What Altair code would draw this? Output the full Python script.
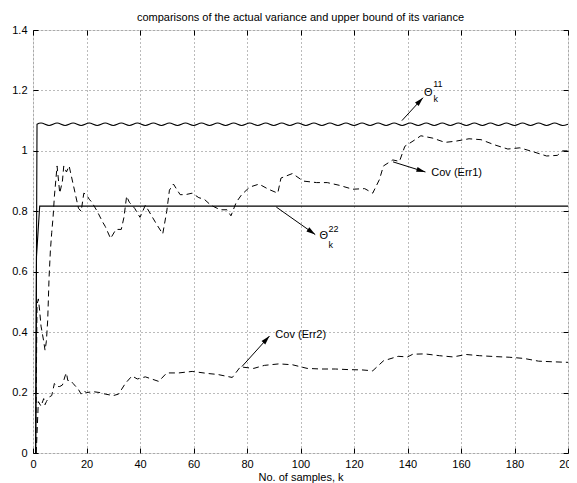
import altair as alt
import pandas as pd

FONT = "Liberation Sans"

# ---------------- data ----------------
x_ticks = [0, 20, 40, 60, 80, 100, 120, 140, 160, 180, 200]
y_ticks = [0, 0.2, 0.4, 0.6, 0.8, 1.0, 1.2, 1.4]

# Theta_k^11 (upper bound, wavy)
theta11_k = [1, 1.5] + list(range(3, 201, 3)) + [200]
theta11_v = [0.0, 1.088,
             1.092, 1.084, 1.092, 1.084, 1.092, 1.084, 1.092, 1.084, 1.092, 1.084,
             1.092, 1.084, 1.092, 1.084, 1.092, 1.084, 1.092, 1.084, 1.092, 1.084,
             1.092, 1.084, 1.092, 1.084, 1.092, 1.084, 1.092, 1.084, 1.092, 1.084,
             1.092, 1.084, 1.092, 1.084, 1.092, 1.084, 1.092, 1.084, 1.092, 1.084,
             1.092, 1.084, 1.092, 1.084, 1.092, 1.084, 1.092, 1.084, 1.092, 1.084,
             1.092, 1.084, 1.092, 1.084, 1.092, 1.084, 1.092, 1.084, 1.092, 1.084,
             1.092, 1.084, 1.092, 1.084, 1.092, 1.084,
             1.088]

# Theta_k^22 (upper bound, flat)
theta22_k = [1, 1.3, 2.5, 200]
theta22_v = [0.0, 0.65, 0.817, 0.817]

# Cov(Err1)
cov1_k = [1, 1.5, 2, 2.5, 3, 4, 4.5, 5, 5.5, 6, 6.5, 7, 7.5, 8, 9, 10, 11, 11.5, 12.5,
          13.5, 15, 16, 17, 18, 19, 20, 21, 22, 24, 26, 27, 29, 31, 33, 34, 35, 36,
          38, 40, 42, 44, 46, 48.5, 50, 51, 52.5, 55, 57, 59.5, 62, 64, 66.5, 70,
          72.5, 74, 76, 78, 81, 84.5, 88, 91.5, 92.7, 97, 101, 106, 110, 114.5, 119.5,
          124, 127, 129.5, 131, 134.5, 137, 139, 142.5, 145, 149.5, 154, 158, 163,
          167.5, 172.5, 177.5, 182, 187, 192, 196, 198, 200]
cov1_v = [0.0, 0.49, 0.51, 0.47, 0.42, 0.37, 0.34, 0.37, 0.44, 0.58, 0.67, 0.73, 0.78,
          0.85, 0.95, 0.86, 0.90, 0.95, 0.93, 0.95, 0.89, 0.85, 0.81, 0.80, 0.86, 0.855,
          0.84, 0.83, 0.80, 0.765, 0.75, 0.71, 0.74, 0.74, 0.78, 0.85, 0.83, 0.81, 0.78,
          0.82, 0.79, 0.76, 0.725, 0.80, 0.87, 0.89, 0.855, 0.855, 0.86, 0.845, 0.84,
          0.82, 0.805, 0.805, 0.785, 0.83, 0.855, 0.88, 0.89, 0.873, 0.86, 0.91, 0.925,
          0.90, 0.895, 0.895, 0.886, 0.873, 0.875, 0.86, 0.905, 0.95, 0.97, 0.965, 1.015,
          1.035, 1.05, 1.042, 1.028, 1.032, 1.04, 1.037, 1.02, 1.006, 1.01, 0.997, 0.983,
          0.985, 1.0, 1.0]

# Cov(Err2)
cov2_k = [1.2, 2, 3, 4, 4.5, 5, 6, 7, 8, 9, 10, 11, 12, 12.5, 13, 14, 15, 16, 17, 18,
          19, 20, 22.5, 25, 27, 30, 32, 34.5, 37, 39, 42, 47, 50, 54.5, 59.5, 65.5, 69,
          74.5, 77.5, 82.5, 86.5, 92, 97, 102.5, 107.5, 113, 118, 123, 127, 131, 136.5,
          140, 142, 146.5, 152, 157, 162, 167, 173, 178, 183.5, 189, 194, 200]
cov2_v = [0.0, 0.17, 0.155, 0.18, 0.16, 0.17, 0.185, 0.19, 0.23, 0.22, 0.22, 0.225,
          0.255, 0.265, 0.24, 0.24, 0.23, 0.22, 0.21, 0.195, 0.205, 0.20, 0.203, 0.20,
          0.195, 0.19, 0.195, 0.23, 0.255, 0.245, 0.252, 0.237, 0.265, 0.265, 0.27,
          0.263, 0.26, 0.25, 0.285, 0.28, 0.29, 0.295, 0.292, 0.28, 0.278, 0.278, 0.276,
          0.275, 0.272, 0.305, 0.32, 0.318, 0.327, 0.328, 0.322, 0.318, 0.326, 0.322,
          0.319, 0.317, 0.313, 0.304, 0.302, 0.30]

# annotations (data coordinates)
arrow_x1 = [137.9, 134.6, 90.95, 78.1]
arrow_y1 = [1.100, 0.9635, 0.814, 0.286]
arrow_x2 = [145.8, 146.7, 105.5, 88.4]
arrow_y2 = [1.176, 0.930, 0.723, 0.387]
arrow_ang = [43.3, 107.2, 125.3, 42.3]

label_text = ["Θ", "11", "k", "Cov (Err1)", "Θ", "22", "k", "Cov (Err2)"]
label_x = [146.2, 149.6, 149.7, 148.9, 107.1, 110.5, 110.5, 90.6]
label_y = [1.192, 1.222, 1.172, 0.926, 0.717, 0.740, 0.688, 0.392]
label_fs = [11, 9, 9, 11, 11, 9, 9, 11]

# ---------------- chart ----------------
W, H = 535, 423
xs = alt.Scale(domain=[0, 200], nice=False, zero=False)
ys = alt.Scale(domain=[0, 1.4], nice=False, zero=False)

main_x = alt.Axis(orient="bottom", values=x_ticks, grid=True, gridDash=[1, 3],
                  gridColor="#777777", gridWidth=1, ticks=False, domain=False,
                  labelFontSize=11, labelFont=FONT, labelColor="black", labelPadding=5,
                  labelFlush=False, labelOverlap=False,
                  title="No. of samples, k", titleFont=FONT, titleFontSize=11,
                  titleFontWeight="normal", titleColor="black", titlePadding=2)
main_y = alt.Axis(orient="left", values=y_ticks, format="~g", grid=True, gridDash=[1, 3],
                  gridColor="#777777", gridWidth=1, ticks=False, domain=False,
                  labelFontSize=11, labelFont=FONT, labelColor="black", labelPadding=6,
                  labelOverlap=False, title=None)


def tick_axis(orient, offset, vals):
    return alt.Axis(orient=orient, offset=offset, values=vals, labels=False, grid=False,
                    domain=False, ticks=True, tickSize=5, tickColor="black",
                    tickWidth=1, title=None)


th11 = pd.DataFrame({"k": theta11_k, "v": theta11_v})
th22 = pd.DataFrame({"k": theta22_k, "v": theta22_v})
c1 = pd.DataFrame({"k": cov1_k, "v": cov1_v})
c2 = pd.DataFrame({"k": cov2_k, "v": cov2_v})

l_th11 = alt.Chart(th11).mark_line(color="black", strokeWidth=1.1,
                                   interpolate="monotone").encode(
    x=alt.X("k:Q", scale=xs, axis=main_x),
    y=alt.Y("v:Q", scale=ys, axis=main_y))

l_th22 = alt.Chart(th22).mark_line(color="black", strokeWidth=1.1).encode(
    x=alt.X("k:Q", scale=xs, axis=tick_axis("top", -H, x_ticks)),
    y=alt.Y("v:Q", scale=ys, axis=tick_axis("right", -W, y_ticks)))

l_c1 = alt.Chart(c1).mark_line(color="black", strokeWidth=1, strokeDash=[6, 4]).encode(
    x=alt.X("k:Q", scale=xs, axis=tick_axis("bottom", -H, x_ticks)),
    y=alt.Y("v:Q", scale=ys, axis=tick_axis("left", -W, y_ticks)))

l_c2 = alt.Chart(c2).mark_line(color="black", strokeWidth=1, strokeDash=[6, 4]).encode(
    x=alt.X("k:Q", scale=xs, axis=None),
    y=alt.Y("v:Q", scale=ys, axis=None))

arr = pd.DataFrame({"x1": arrow_x1, "y1": arrow_y1, "x2": arrow_x2, "y2": arrow_y2,
                    "ang": arrow_ang})
arrows = alt.Chart(arr).mark_rule(color="black", strokeWidth=1).encode(
    x=alt.X("x1:Q", scale=xs, axis=None), y=alt.Y("y1:Q", scale=ys, axis=None),
    x2="x2:Q", y2="y2:Q")
heads = alt.Chart(arr).mark_point(shape="M0,0L-0.5,1.8L0.5,1.8Z", filled=True,
                                  color="black", opacity=1, size=100,
                                  strokeWidth=0).encode(
    x=alt.X("x2:Q", scale=xs, axis=None), y=alt.Y("y2:Q", scale=ys, axis=None),
    angle=alt.Angle("ang:Q", scale=None))

lab = pd.DataFrame({"x": label_x, "y": label_y, "t": label_text, "fs": label_fs})
labels = alt.Chart(lab).mark_text(align="left", baseline="middle", font=FONT,
                                  color="black").encode(
    x=alt.X("x:Q", scale=xs, axis=None), y=alt.Y("y:Q", scale=ys, axis=None),
    text="t:N", size=alt.Size("fs:Q", scale=None))

chart = alt.layer(l_th11, l_th22, l_c1, l_c2, arrows, heads, labels).resolve_axis(
    x="independent", y="independent"
).properties(
    width=W, height=H,
    autosize=alt.AutoSizeParams(type="none"),
    padding={"left": 25, "top": 22, "right": 1, "bottom": 30},
    title=alt.TitleParams("comparisons of the actual variance and upper bound of its variance",
                          font=FONT, fontSize=11, fontWeight="normal", color="black",
                          anchor="middle", offset=1),
).configure_view(stroke="black", strokeWidth=1).configure(background="white")

chart.save("out.html", embed_options={"renderer": "svg", "actions": False})
